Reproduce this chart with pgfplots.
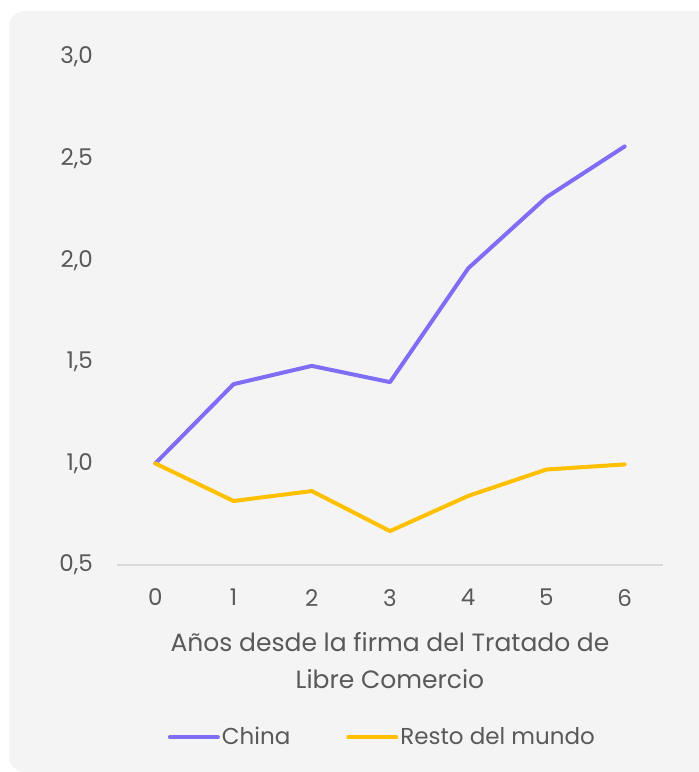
\documentclass[border=0pt]{standalone}
\usepackage{fontspec}
\setmainfont{Poppins}
\usepackage{pgfplots}
\pgfplotsset{compat=1.18}
\definecolor{panel}{HTML}{F4F4F4}
\definecolor{txt}{HTML}{595959}
\definecolor{axisgray}{HTML}{D9D9D9}
\definecolor{china}{HTML}{7F6EF5}
\definecolor{resto}{HTML}{FFC000}

\begin{document}
\begin{tikzpicture}
% page is 699 x 772 px, 1 px = 0.5pt
\path[use as bounding box] (0,0) rectangle (349.5pt,-386pt);
\begin{scope}
\clip (0,0) rectangle (349.5pt,-386pt);
\fill[white] (0,0) rectangle (349.5pt,-386pt);
\fill[panel, rounded corners=8pt] (4.5pt,-5.5pt) rectangle (360pt,-386pt);
\end{scope}
\begin{axis}[
  at={(58.5pt,-282.5pt)}, anchor=south west,
  scale only axis, width=273pt, height=254pt,
  xmin=-0.49, xmax=6.49, ymin=0.5, ymax=3.0,
  xtick={0,...,6}, ytick={0.5,1,...,3},
  axis x line*=bottom, axis y line*=left,
  y axis line style={draw=none},
  x axis line style={draw=axisgray, line width=1pt, -},
  major tick length=0pt,
  tick label style={font=\fontsize{11.5}{13}\selectfont, text=txt},
  yticklabel style={xshift=-8.5pt},
  xticklabel style={yshift=-8.5pt},
  /pgf/number format/assume math mode=true,
  y tick label style={/pgf/number format/.cd, use comma, fixed, fixed zerofill, precision=1},
  xlabel={Años desde la firma del Tratado de\\Libre Comercio},
  xlabel style={align=center, font=\fontsize{12.5}{18.5}\selectfont, text=txt, yshift=-6.5pt},
  legend columns=2,
  legend style={draw=none, fill=none, at={(0.486,-0.339)}, anchor=center,
    font=\fontsize{11.5}{13}\selectfont, text=txt,
    /tikz/every odd column/.style={column sep=0pt},
    /tikz/every even column/.style={column sep=27pt},
    nodes={inner sep=1pt}},
  legend image code/.code={\draw[line width=2pt, line cap=round] (0pt,0pt) -- (24pt,0pt);},
  every axis plot/.append style={line width=2pt, no markers, line join=round, line cap=round},
]
\addplot[china] coordinates {(0,1.00) (1,1.39) (2,1.48) (3,1.40) (4,1.96) (5,2.31) (6,2.56)};
\addplot[resto] coordinates {(0,1.00) (1,0.815) (2,0.864) (3,0.667) (4,0.84) (5,0.97) (6,0.995)};
\legend{China, Resto del mundo}
\end{axis}
\end{tikzpicture}
\end{document}
